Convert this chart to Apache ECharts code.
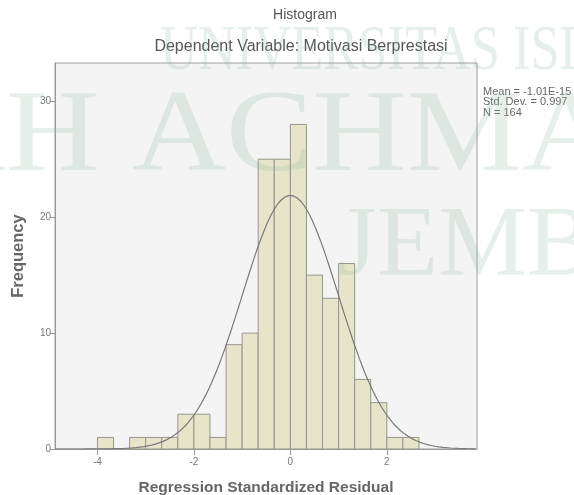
<!DOCTYPE html>
<html>
<head>
<meta charset="utf-8">
<script src="https://cdn.jsdelivr.net/npm/echarts@6/dist/echarts.min.js"></script>
<style>
  html, body { margin: 0; padding: 0; background: #fff; }
  #main { width: 574px; height: 495px; }
</style>
</head>
<body>
<div id="main"></div>
<script>
// histogram bins (lower edge, width 1/3) and counts
var binLower = [-4, -3.667, -3.333, -3, -2.667, -2.333, -2, -1.667, -1.333, -1,
                -0.667, -0.333, 0, 0.333, 0.667, 1, 1.333, 1.667, 2, 2.333];
var counts   = [1, 0, 1, 1, 1, 3, 3, 1, 9, 10,
                25, 25, 28, 15, 13, 16, 6, 4, 1, 1];
var binWidth = 1 / 3;

// stats shown at the right
var meanVal = -1.01e-15;
var stdDev = 0.997;
var nObs = 164;
var statLines = ['Mean = -1.01E-15', 'Std. Dev. = 0.997', 'N = 164'];

var xTicks = [-4, -2, 0, 2];
var yTicks = [0, 10, 20, 30];

// normal curve scaled to the histogram
var curve = [];
for (var x = -4.88; x <= 3.875; x += 0.04) {
  var z = (x - meanVal) / stdDev;
  curve.push([x, nObs * binWidth * Math.exp(-z * z / 2) / (stdDev * Math.sqrt(2 * Math.PI))]);
}

var bars = [];
for (var i = 0; i < binLower.length; i++) {
  if (counts[i] > 0) bars.push([binLower[i], binLower[i] + binWidth, counts[i]]);
}

var font = '"Liberation Sans", Arial, sans-serif';
var wmFill = 'rgba(140,180,160,0.22)';
var chart = echarts.init(document.getElementById('main'));
chart.setOption({
  animation: false,
  backgroundColor: '#fff',
  title: [
    { text: 'Histogram', left: 300, top: 3, textAlign: 'center',
      textStyle: { fontFamily: font, fontSize: 14, fontWeight: 'normal', color: '#555' } },
    { text: 'Dependent Variable: Motivasi Berprestasi', left: 296, top: 34, textAlign: 'center',
      textStyle: { fontFamily: font, fontSize: 16, fontWeight: 'normal', color: '#555' } }
  ],
  grid: { left: 55, right: 97, top: 63, bottom: 46, show: true, outerBoundsMode: 'none',
          backgroundColor: '#f4f4f4', borderColor: '#a0a0a0', borderWidth: 1 },
  xAxis: {
    type: 'value', min: -4.88, max: 3.87,
    name: 'Regression Standardized Residual', nameLocation: 'middle', nameGap: 31,
    nameTextStyle: { fontFamily: font, fontSize: 15.5, fontWeight: 'bold', color: '#666' },
    axisLine: { onZero: false, lineStyle: { color: '#999' } },
    axisTick: { show: true, length: 6, lineStyle: { color: '#999' }, customValues: xTicks },
    axisLabel: { customValues: xTicks, fontFamily: font, fontSize: 10, color: '#777', margin: 8 },
    splitLine: { show: false }
  },
  yAxis: {
    type: 'value', min: 0, max: 33.3,
    name: 'Frequency', nameLocation: 'middle', nameGap: 28,
    nameTextStyle: { fontFamily: font, fontSize: 16.5, fontWeight: 'bold', color: '#666' },
    axisLine: { show: true, onZero: false, lineStyle: { color: '#999' } },
    axisTick: { show: true, length: 5, lineStyle: { color: '#999' }, customValues: yTicks },
    axisLabel: { customValues: yTicks, fontFamily: font, fontSize: 10, color: '#777', margin: 4 },
    splitLine: { show: false }
  },
  series: [
    {
      type: 'custom',
      data: bars,
      encode: { x: [0, 1], y: 2 },
      renderItem: function (params, api) {
        var p0 = api.coord([api.value(0), api.value(2)]);
        var p1 = api.coord([api.value(1), 0]);
        return {
          type: 'rect',
          shape: { x: p0[0], y: p0[1], width: p1[0] - p0[0], height: p1[1] - p0[1] },
          style: { fill: '#e6e4c9', stroke: '#96968c', lineWidth: 1 }
        };
      }
    },
    {
      type: 'line',
      data: curve,
      showSymbol: false,
      lineStyle: { color: '#7a7a7a', width: 1.2 },
      z: 3
    }
  ],
  graphic: [
    { type: 'text', left: 483, top: 86, z: 10,
      style: { text: statLines.join('\n'), font: '11px ' + font, fill: '#666', lineHeight: 10.5 } },
    // faint watermark over the picture
    { type: 'text', x: 160, y: 20, z: 20, silent: true, scaleX: 0.82,
      style: { text: 'UNIVERSITAS ISLAM', font: '64px "Liberation Serif", serif', fill: wmFill } },
    { type: 'text', x: -88, y: 82, z: 20, silent: true, scaleX: 1.12,
      style: { text: 'KH ACHMAD', font: '116px "Liberation Serif", serif', fill: wmFill } },
    { type: 'text', x: 338, y: 198, z: 20, silent: true,
      style: { text: 'JEMBER', font: '100px "Liberation Serif", serif', fill: wmFill } }
  ]
});
</script>
</body>
</html>
